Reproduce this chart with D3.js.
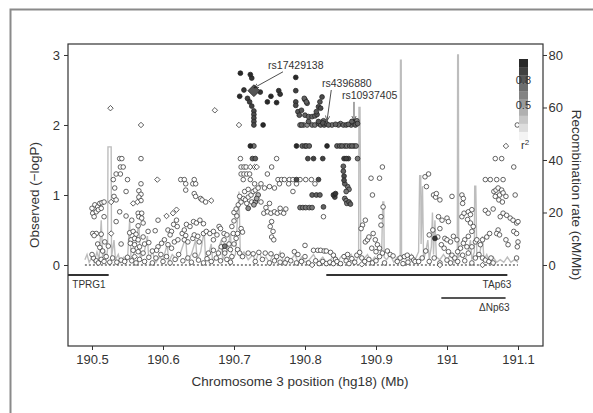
<!DOCTYPE html>
<html>
<head>
<meta charset="utf-8">
<script src="https://cdn.jsdelivr.net/npm/d3@7"></script>
<style>
  body { margin: 0; background: #fff; }
  text { font-family: "Liberation Sans", Arial, Helvetica, sans-serif; }
</style>
</head>
<body>
<div class="chart"></div>
<script>

// SNPs with low LD (open circles) : [position Mb, -logP]
var openCircles = [
  [190.5,0.81],[190.504,0.86],[190.508,0.83],[190.511,0.88],[190.514,0.89],[190.517,0.9],[190.501,0.74],[190.506,0.76],
  [190.509,0.79],[190.513,0.81],[190.503,0.69],[190.517,0.69],[190.501,0.45],[190.506,0.45],[190.513,0.44],[190.503,0.42],
  [190.508,0.3],[190.511,0.25],[190.518,0.33],[190.523,0.27],[190.515,0.2],[190.539,1.52],[190.542,1.52],[190.569,1.52],
  [190.54,1.4],[190.544,1.4],[190.534,1.3],[190.54,1.3],[190.53,1.22],[190.55,1.22],[190.569,1.16],[190.532,1.1],
  [190.548,1.05],[190.566,1.06],[190.569,1.01],[190.566,0.97],[190.531,0.98],[190.534,0.93],[190.569,0.92],[190.539,0.76],
  [190.548,0.7],[190.565,0.74],[190.57,0.74],[190.566,0.69],[190.57,0.67],[190.556,0.64],[190.572,0.6],[190.565,0.56],
  [190.553,0.46],[190.558,0.48],[190.562,0.44],[190.579,0.48],[190.555,0.36],[190.56,0.38],[190.565,0.36],[190.572,0.4],
  [190.541,0.3],[190.554,0.31],[190.56,0.29],[190.567,0.26],[190.574,0.3],[190.58,0.32],[190.558,0.21],[190.565,0.19],
  [190.572,0.17],[190.534,0.62],[190.502,0.1],[190.506,0.06],[190.509,0.03],[190.513,0.08],[190.517,0.05],[190.525,0.04],
  [190.529,0.1],[190.535,0.04],[190.541,0.07],[190.546,0.05],[190.55,0.11],[190.556,0.06],[190.562,0.03],[190.567,0.08],
  [190.574,0.05],[190.58,0.11],[190.585,0.03],[190.52,0.12],[190.5,0.15],
  [190.625,1.22],[190.63,1.22],[190.632,1.16],[190.642,1.16],[190.646,1.16],[190.644,1.22],[190.632,1.07],[190.644,1.02],
  [190.646,0.98],[190.653,0.95],[190.655,0.93],[190.593,0.64],[190.619,0.64],[190.615,0.58],[190.633,0.58],[190.638,0.55],
  [190.643,0.62],[190.647,0.6],[190.652,0.64],[190.657,0.59],[190.607,0.5],[190.612,0.48],[190.61,0.43],[190.589,0.49],
  [190.602,0.36],[190.598,0.31],[190.593,0.26],[190.591,0.21],[190.607,0.29],[190.612,0.24],[190.616,0.33],[190.621,0.36],
  [190.627,0.45],[190.632,0.42],[190.63,0.36],[190.635,0.33],[190.642,0.38],[190.644,0.43],[190.649,0.41],[190.651,0.33],
  [190.657,0.45],[190.661,0.48],[190.666,0.45],[190.671,0.48],[190.676,0.43],[190.671,0.36],[190.679,0.55],[190.681,0.52],
  [190.686,0.45],[190.69,0.43],[190.686,0.36],[190.693,0.3],[190.682,0.26],[190.687,0.21],[190.664,0.17],[190.671,0.21],
  [190.678,0.17],[190.687,0.17],[190.697,0.12],[190.695,0.22],[190.699,0.45],[190.66,0.9],[190.6,0.05],[190.605,0.12],
  [190.61,0.03],[190.617,0.08],[190.622,0.15],[190.628,0.06],[190.635,0.1],[190.64,0.04],[190.645,0.14],[190.65,0.07],
  [190.657,0.03],[190.662,0.09],[190.668,0.05],[190.675,0.1],[190.681,0.06],[190.69,0.08],[190.695,0.04],[190.597,0.15],
  [190.585,0.2],[190.59,0.1],[190.62,0.55],[190.63,0.5],
  [190.709,1.52],[190.76,1.52],[190.71,1.4],[190.714,1.4],[190.717,1.4],[190.753,1.4],[190.71,1.3],[190.714,1.3],
  [190.718,1.3],[190.722,1.3],[190.747,1.3],[190.713,1.22],[190.723,1.22],[190.762,1.22],[190.767,1.22],[190.771,1.22],
  [190.778,1.22],[190.783,1.22],[190.729,1.16],[190.738,1.16],[190.764,1.16],[190.777,1.16],[190.788,1.16],[190.743,1.1],
  [190.75,1.12],[190.757,1.1],[190.783,1.05],[190.7,0.75],[190.703,0.8],[190.706,0.86],[190.71,0.9],[190.713,0.95],
  [190.716,0.93],[190.72,0.97],[190.724,1.0],[190.727,1.05],[190.73,1.07],[190.734,1.1],[190.708,0.98],[190.715,1.05],
  [190.72,1.08],[190.725,0.9],[190.718,0.88],[190.704,0.7],[190.7,0.63],[190.697,0.55],[190.71,0.52],[190.712,0.47],
  [190.705,0.45],[190.703,0.38],[190.7,0.3],[190.705,0.22],[190.708,0.17],[190.712,0.12],[190.742,0.74],[190.747,0.76],
  [190.752,0.74],[190.757,0.76],[190.761,0.74],[190.766,0.76],[190.77,0.74],[190.773,0.8],[190.765,0.81],[190.745,0.82],
  [190.738,0.9],[190.75,0.88],[190.753,0.62],[190.751,0.55],[190.755,0.48],[190.753,0.4],[190.756,0.36],[190.72,0.17],
  [190.727,0.16],[190.735,0.18],[190.744,0.17],[190.752,0.16],[190.76,0.12],[190.768,0.14],[190.775,0.08],[190.785,0.19],
  [190.79,0.15],[190.73,0.05],[190.74,0.08],[190.75,0.03],[190.757,0.06],[190.765,0.04],[190.772,0.03],[190.78,0.06],
  [190.788,0.03],
  [190.793,1.22],[190.801,1.22],[190.809,1.22],[190.814,1.16],[190.826,0.69],[190.812,0.21],[190.818,0.21],[190.822,0.21],
  [190.827,0.2],[190.83,0.2],[190.836,0.18],[190.8,0.28],[190.84,0.14],[190.843,0.08],[190.795,0.05],[190.8,0.12],
  [190.805,0.03],[190.815,0.06],[190.82,0.02],[190.825,0.05],[190.83,0.02],[190.835,0.04],[190.84,0.02],[190.845,0.05],
  [190.85,0.02],[190.855,0.12],[190.858,0.06],[190.862,0.02],[190.866,0.09],[190.87,0.04],[190.873,0.14],[190.86,0.15],
  [190.909,1.4],[190.893,1.24],[190.905,1.24],[190.895,1.0],[190.885,0.64],[190.881,0.57],[190.879,0.52],[190.907,0.69],
  [190.907,0.57],[190.91,0.83],[190.885,0.33],[190.888,0.36],[190.894,0.24],[190.899,0.36],[190.902,0.29],[190.9,0.19],
  [190.905,0.24],[190.909,0.17],[190.905,0.12],[190.916,0.2],[190.92,0.15],[190.924,0.13],[190.934,0.1],[190.94,0.12],
  [190.944,0.14],[190.95,0.11],[190.953,0.07],[190.945,0.04],[190.88,0.1],[190.884,0.05],[190.89,0.08],[190.895,0.03],
  [190.9,0.06],[190.912,0.03],[190.93,0.05],[190.938,0.02],[190.955,0.05],[190.877,0.18],[190.89,0.4],[190.896,0.45],
  [190.969,1.26],[190.974,1.3],[190.971,1.12],[190.981,1.0],[190.984,0.97],[190.985,1.02],[190.99,0.93],[191.007,0.98],
  [191.021,1.0],[191.023,0.95],[191.022,0.88],[190.988,0.69],[190.993,0.64],[191.0,0.67],[191.002,0.62],[190.99,0.52],
  [190.997,0.38],[191.0,0.36],[191.005,0.33],[191.009,0.41],[191.014,0.36],[191.021,0.69],[191.024,0.74],[191.03,0.76],
  [191.035,0.79],[191.033,0.72],[191.029,0.65],[191.033,0.6],[191.037,0.55],[191.035,0.48],[191.03,0.41],[191.025,0.36],
  [191.023,0.31],[191.028,0.26],[191.019,0.24],[191.015,0.19],[191.022,0.14],[191.03,0.17],[191.035,0.26],[191.04,0.33],
  [191.042,0.36],[191.047,0.29],[191.05,0.36],[191.056,0.4],[191.06,0.45],[191.066,1.05],[191.069,1.07],[191.072,1.1],
  [191.077,1.07],[191.074,1.0],[191.079,1.03],[191.083,0.98],[191.068,0.98],[191.073,0.93],[191.078,0.9],[191.068,1.52],
  [191.077,1.52],[191.094,1.4],[191.099,2.0],[191.054,1.22],[191.061,1.22],[191.07,1.22],[191.079,1.22],[191.096,1.0],
  [191.054,0.78],[191.058,0.74],[191.065,0.8],[191.075,0.69],[191.079,0.74],[191.084,0.71],[191.089,0.67],[191.093,0.64],
  [191.098,0.6],[191.1,0.62],[191.072,0.5],[191.07,0.45],[191.074,0.43],[191.094,0.48],[191.098,0.45],[191.1,0.33],
  [191.099,0.26],[191.083,0.36],[191.086,0.29],[191.098,0.1],[191.05,0.1],[191.054,0.07],[191.059,0.05],[191.062,0.1],
  [191.065,0.03],[190.975,0.43],[190.98,0.5],[190.987,0.4],[190.992,0.29],[190.996,0.24],[191.002,0.19],[191.007,0.14],
  [191.011,0.1],[190.975,0.05],[190.982,0.1],[190.99,0.03],[191.0,0.07],[191.005,0.03],[191.015,0.05],[191.025,0.06],
  [191.035,0.03],[191.04,0.1],[191.045,0.15],[190.965,0.1],[190.96,0.05],[190.97,0.2]
];

// open diamonds : [position Mb, -logP]
var openDiamonds = [
  [190.526,2.24],[190.569,2.0],[190.673,2.21],[190.707,2.0],[190.592,1.22],[190.723,1.4],[190.729,1.4],[190.732,1.4],
  [190.527,0.45],[190.558,0.88],[190.564,0.9],[190.619,0.79],[190.614,0.74],[190.605,0.7],[190.668,0.92],[191.083,1.7],
  [190.527,0.9],[190.56,0.12],[190.81,0.0],[190.88,0.01],[190.99,0.0],[191.05,0.0]
];

// SNPs shaded by LD with the index SNP : [position Mb, -logP, r2]
var ldSnps = [
  [190.709,2.74,0.95],[190.723,2.72,0.95],[190.725,2.67,0.9],[190.708,2.41,0.95],[190.714,2.5,0.9],[190.719,2.38,0.85],
  [190.722,2.33,0.85],[190.725,2.27,0.85],[190.728,2.2,0.8],[190.728,2.15,0.8],[190.728,2.1,0.8],[190.728,2.05,0.8],
  [190.728,2.0,0.8],[190.741,2.0,0.95],[190.737,2.47,0.9],[190.747,2.33,0.95],[190.752,2.41,0.95],[190.76,2.32,0.95],
  [190.763,2.49,0.9],[190.765,2.44,0.9],[190.787,2.68,0.95],[190.787,2.49,0.85],[190.787,2.33,0.8],[190.787,2.28,0.8],
  [190.79,2.19,0.75],[190.8,2.36,0.7],[190.803,2.31,0.7],[190.792,2.14,0.75],[190.795,2.0,0.7],[190.805,2.05,0.7],
  [190.799,2.38,0.7],[190.802,2.33,0.7],[190.795,2.21,0.75],[190.8,2.14,0.7],[190.805,2.12,0.7],[190.81,2.12,0.7],
  [190.814,2.13,0.7],[190.817,2.15,0.75],[190.824,2.4,0.8],[190.821,2.33,0.75],[190.819,2.26,0.8],[190.816,2.19,0.75],
  [190.822,2.24,0.8],
  [190.793,2.0,0.5],[190.798,2.0,0.5],[190.803,2.0,0.5],[190.81,2.0,0.6],[190.814,2.0,0.6],[190.819,2.02,0.7],
  [190.822,2.0,0.7],[190.825,2.03,0.75],[190.827,2.0,0.7],[190.83,2.02,0.7],[190.833,2.0,0.7],[190.838,2.0,0.6],
  [190.843,2.01,0.7],[190.847,2.0,0.65],[190.85,2.02,0.6],[190.854,2.0,0.65],[190.858,2.0,0.7],[190.861,2.01,0.7],
  [190.865,2.0,0.65],[190.868,2.03,0.7],[190.871,2.0,0.7],[190.874,2.02,0.7],[190.866,2.05,0.7],[190.873,2.06,0.6],
  [190.819,2.05,0.75],[190.826,2.06,0.7],
  [190.723,1.7,0.95],[190.728,1.7,0.6],[190.788,1.7,0.95],[190.796,1.7,0.7],[190.8,1.7,0.7],[190.802,1.7,0.7],
  [190.806,1.7,0.7],[190.831,1.7,0.95],[190.845,1.7,0.7],[190.849,1.7,0.7],[190.852,1.7,0.7],[190.856,1.7,0.6],
  [190.859,1.7,0.6],[190.863,1.7,0.7],[190.866,1.7,0.7],[190.869,1.7,0.6],[190.872,1.7,0.6],
  [190.726,1.52,0.7],[190.73,1.52,0.7],[190.804,1.52,0.8],[190.812,1.52,0.85],[190.825,1.52,0.85],[190.855,1.52,0.85],
  [190.858,1.52,0.85],[190.861,1.52,0.8],[190.874,1.52,0.6],
  [190.854,1.41,0.7],[190.854,1.34,0.7],[190.855,1.27,0.8],[190.855,1.21,0.8],[190.856,1.16,0.7],[190.86,1.12,0.6],
  [190.862,1.08,0.6],[190.858,1.05,0.6],[190.856,0.95,0.6],[190.858,0.92,0.6],[190.862,0.9,0.7],[190.864,0.87,0.7],
  [190.859,0.88,0.6],[190.819,1.22,0.8],[190.81,1.0,0.7],[190.816,1.0,0.7],[190.821,1.0,0.7],[190.84,1.0,0.9],
  [190.843,1.02,0.9],[190.842,0.97,0.8],[190.793,0.82,0.6],[190.797,0.82,0.6],[190.801,0.82,0.6],[190.806,0.82,0.6],
  [190.81,0.82,0.6],[190.826,0.83,0.7],[190.72,0.81,0.5],[190.788,1.22,0.8],[190.73,0.9,0.4],[190.732,0.95,0.4],
  [190.728,0.86,0.4],[190.734,1.0,0.3],[190.983,0.38,0.9],[190.687,0.27,0.6]
];

// index SNP (large diamond)
var indexSnp = [190.728, 2.49];

// annotated SNPs : name, position, -logP, label position
var snpLabels = ["rs17429138", "rs4396880", "rs10937405"];
var snpPos = [190.728, 190.831, 190.869];
var snpLogP = [2.53, 2.06, 2.06];
var labelPos = [190.748, 190.824, 190.852];
var labelLogP = [2.8, 2.54, 2.37];
var arrowFromPos = [190.769, 190.837, 190.869];
var arrowFromLogP = [2.76, 2.5, 2.33];

// recombination rate (cM/Mb)
var recPos = [
  190.49,190.493,190.496,190.5,190.503,190.507,190.51,190.513,190.515,190.518,190.52,190.522,190.5225,190.527,190.5275,
  190.531,190.533,190.537,190.54,190.545,190.55,190.553,190.555,190.56,190.566,190.568,190.573,190.578,190.58,190.585,
  190.59,190.595,190.6,190.606,190.608,190.613,190.62,190.625,190.632,190.634,190.64,190.646,190.648,190.653,190.658,
  190.66,190.664,190.668,190.67,190.675,190.682,190.684,190.69,190.695,190.697,190.702,190.707,190.709,190.714,190.72,
  190.727,190.73,190.735,190.74,190.745,190.75,190.755,190.76,190.765,190.77,190.775,190.78,190.786,190.79,190.795,
  190.8,190.806,190.812,190.818,190.825,190.83,190.836,190.842,190.846,190.85,190.855,190.86,190.865,190.87,190.8755,
  190.876,190.8775,190.878,190.8785,190.882,190.888,190.893,190.898,190.903,190.908,190.9095,190.911,190.9115,190.915,
  190.92,190.925,190.93,190.934,190.9345,190.9355,190.936,190.94,190.945,190.95,190.955,190.96,190.9615,190.963,
  190.9635,190.9655,190.967,190.97,190.973,190.975,190.978,190.9795,190.981,190.983,190.985,190.99,190.995,191.0,
  191.005,191.01,191.0145,191.015,191.016,191.0165,191.02,191.025,191.03,191.033,191.035,191.0385,191.039,191.0405,
  191.041,191.042,191.046,191.05,191.052,191.056,191.06,191.065,191.07,191.075,191.08,191.085,191.09,191.095,191.1
];
var recRate = [
  2,4,1,3,1,5,2,17,3,5,2,6,45,45,3,
  9.5,2,4,1,3,2,17,2,5,16,3,4,11,2,5,
  1,3,2,8,1,4,2,5,10.5,2,4,9.5,2,5,13,
  2,4,8,1,3,9.5,2,5,12,2,4,28,3,5,2,
  4,1,5,2,3,1,4,2,5,1,3,2,4,1,3,
  1,2,4,1,3,1,2,4,1,3,4,2,4,1,3,
  60,60,35,3,2,4,1,3,2,5,24,24,3,2,
  4,1,3,2,78,78,2,3,1,4,2,5,34,34,
  8,30,2,5,9.5,2,7,20,4,17,3,2,4,2,
  4,1,3,80,80,3,4,2,5,9.5,2,5,30,30,
  22,3,4,11,2,4,1,3,1,2,1,3,1,2,1
];

// genes
var geneNames = ["TPRG1", "TAp63", "\u0394Np63"];
var geneStart = [190.40, 190.83, 190.992];
var geneEnd = [190.5235, 191.085, 191.0825];
var geneRow = [0, 0, 1];

// r2 legend
var legendSteps = [1, 0.9, 0.8, 0.7, 0.6, 0.5, 0.4, 0.3, 0.2, 0.1];
var legendLabels = [0.8, 0.5];

var xTicks = [190.5, 190.6, 190.7, 190.8, 190.9, 191, 191.1];
var yTicks = [0, 1, 2, 3];
var recTicks = [0, 20, 40, 60, 80];

var width = 593, height = 413;
var box = {left: 68, top: 44, right: 543, bottom: 346};
var textColor = "#333";

var svg = d3.select(".chart")
  .append("svg")
    .attr("width", width)
    .attr("height", height);

var x = d3.scaleLinear().domain([190.4662, 191.1352]).range([box.left, box.right]);
var y = d3.scaleLinear().domain([-1.157, 3.157]).range([box.bottom, box.top]);
var yRec = d3.scaleLinear().domain([-30.86, 84.19]).range([box.bottom, box.top]);
var shade = d3.scaleLinear().domain([0, 1]).range(["#ffffff", "#1e1e1e"]);

// OUTER FRAME //
svg.append("path")
  .attr("d", "M10.5,413 V9.5 H593")
  .style("fill", "none")
  .style("stroke", "#8a8a8a")
  .style("stroke-width", 2);

var plot = svg.append("g");

plot.append("clipPath").attr("id", "clip")
  .append("rect")
    .attr("x", box.left).attr("y", box.top)
    .attr("width", box.right - box.left).attr("height", box.bottom - box.top);

// RECOMBINATION RATE //
var recLine = d3.line()
  .x(function(d, i) { return x(recPos[i]); })
  .y(function(d) { return yRec(d); });

plot.append("path")
  .datum(recRate)
  .attr("d", recLine)
  .style("fill", "none")
  .style("stroke", "#bdbdbd")
  .style("stroke-width", 1.4);

// BASELINE //
plot.append("line")
  .attr("x1", x(190.49)).attr("x2", x(191.1))
  .attr("y1", y(0)).attr("y2", y(0))
  .style("stroke", "#222")
  .style("stroke-width", 1.1)
  .style("stroke-dasharray", "2,2");

// POINTS //
plot.selectAll(".open-circle")
  .data(openCircles)
  .enter().append("circle")
    .attr("cx", function(d) { return x(d[0]); })
    .attr("cy", function(d) { return y(d[1]); })
    .attr("r", 2.3)
    .style("fill", "#fff")
    .style("stroke", "#333")
    .style("stroke-width", 0.75);

var diamond = d3.symbol().type(d3.symbolSquare).size(15);

plot.selectAll(".open-diamond")
  .data(openDiamonds)
  .enter().append("path")
    .attr("d", diamond)
    .attr("transform", function(d) { return "translate(" + x(d[0]) + "," + y(d[1]) + ") rotate(45)"; })
    .style("fill", "#fff")
    .style("stroke", "#333")
    .style("stroke-width", 0.75);

var sortedLd = ldSnps.slice().sort(function(a, b) { return a[2] - b[2]; });

plot.selectAll(".ld-snp")
  .data(sortedLd)
  .enter().append("circle")
    .attr("cx", function(d) { return x(d[0]); })
    .attr("cy", function(d) { return y(d[1]); })
    .attr("r", 2.4)
    .style("fill", function(d) { return shade(d[2]); })
    .style("stroke", "#222")
    .style("stroke-width", 0.75);

plot.append("path")
  .attr("d", d3.symbol().type(d3.symbolSquare).size(70))
  .attr("transform", "translate(" + x(indexSnp[0]) + "," + y(indexSnp[1]) + ") rotate(45)")
  .style("fill", "#555")
  .style("stroke", "#222")
  .style("stroke-width", 0.8);

// SNP LABELS AND ARROWS //
svg.append("defs").append("marker")
  .attr("id", "arrow")
  .attr("viewBox", "0 0 10 10")
  .attr("refX", 9).attr("refY", 5)
  .attr("markerWidth", 7).attr("markerHeight", 7)
  .attr("orient", "auto")
  .append("path")
    .attr("d", "M0,1 L9,5 L0,9")
    .style("fill", "none")
    .style("stroke", "#222")
    .style("stroke-width", 1.2);

for (var i = 0; i < snpLabels.length; i++) {
  plot.append("text")
    .attr("x", x(labelPos[i]))
    .attr("y", y(labelLogP[i]))
    .style("font-size", "10.5px")
    .style("fill", textColor)
    .text(snpLabels[i]);

  plot.append("line")
    .attr("x1", x(arrowFromPos[i])).attr("y1", y(arrowFromLogP[i]))
    .attr("x2", x(snpPos[i])).attr("y2", y(snpLogP[i]))
    .style("stroke", "#222")
    .style("stroke-width", 0.8)
    .attr("marker-end", "url(#arrow)");
}

// GENES //
var geneY = [y(-0.143), y(-0.47)];
var genes = plot.append("g").attr("clip-path", "url(#clip)");
for (var g = 0; g < geneNames.length; g++) {
  genes.append("line")
    .attr("x1", x(geneStart[g])).attr("x2", x(geneEnd[g]))
    .attr("y1", geneY[geneRow[g]]).attr("y2", geneY[geneRow[g]])
    .style("stroke", g == 2 ? "#555" : "#333")
    .style("stroke-width", 2);

  plot.append("text")
    .attr("x", x(geneEnd[g]) + (g == 0 ? -3 : 4))
    .attr("y", geneY[geneRow[g]] + 13)
    .attr("text-anchor", "end")
    .style("font-size", "10px")
    .style("fill", textColor)
    .text(geneNames[g]);
}

// R2 LEGEND //
var legendY = d3.scaleLinear().domain([1, 0]).range([59, 140]);
var legend = svg.append("g");
legend.selectAll("rect")
  .data(legendSteps)
  .enter().append("rect")
    .attr("x", 519)
    .attr("width", 9)
    .attr("y", function(d) { return legendY(d); })
    .attr("height", legendY(0) - legendY(0.1) + 0.3)
    .style("fill", function(d) { return shade(d - 0.05); });

legend.selectAll(".legend-label")
  .data(legendLabels)
  .enter().append("text")
    .attr("x", 531)
    .attr("y", function(d) { return legendY(d) + 9; })
    .attr("text-anchor", "end")
    .style("font-size", "11px")
    .style("fill", textColor)
    .text(function(d) { return d; });

legend.append("text")
  .attr("x", 521)
  .attr("y", 149)
  .style("font-size", "11px")
  .style("fill", textColor)
  .html("r<tspan dy='-4' font-size='8px'>2</tspan>");

// AXES //
var xAxis = svg.append("g")
  .attr("transform", "translate(0," + box.bottom + ")")
  .call(d3.axisBottom(x).tickValues(xTicks).tickSize(4).tickPadding(5).tickFormat(d3.format("")));

var yAxis = svg.append("g")
  .attr("transform", "translate(" + box.left + ",0)")
  .call(d3.axisLeft(y).tickValues(yTicks).tickSize(4).tickPadding(4).tickFormat(d3.format("d")));

var recAxis = svg.append("g")
  .attr("transform", "translate(" + box.right + ",0)")
  .call(d3.axisRight(yRec).tickValues(recTicks).tickSize(4).tickPadding(1.5).tickFormat(d3.format("d")));

[xAxis, yAxis, recAxis].forEach(function(a) {
  a.select(".domain").remove();
  a.selectAll("line").style("stroke", "#333");
  a.selectAll("text").style("font-size", "13px").style("fill", textColor).style("font-family", "'Liberation Sans', Arial, sans-serif");
});

svg.append("rect")
  .attr("x", box.left).attr("y", box.top)
  .attr("width", box.right - box.left).attr("height", box.bottom - box.top)
  .style("fill", "none")
  .style("stroke", "#333")
  .style("stroke-width", 1.2);

// AXIS TITLES //
svg.append("text")
  .attr("transform", "translate(39,195) rotate(-90)")
  .attr("text-anchor", "middle")
  .style("font-size", "13.5px")
  .style("fill", textColor)
  .text("Observed (\u2212logP)");

svg.append("text")
  .attr("transform", "translate(572,195) rotate(90)")
  .attr("text-anchor", "middle")
  .style("font-size", "13.5px")
  .style("fill", textColor)
  .text("Recombination rate (cM/Mb)");

svg.append("text")
  .attr("x", 300)
  .attr("y", 386)
  .attr("text-anchor", "middle")
  .style("font-size", "13.5px")
  .style("fill", textColor)
  .text("Chromosome 3 position (hg18) (Mb)");

</script>
</body>
</html>
